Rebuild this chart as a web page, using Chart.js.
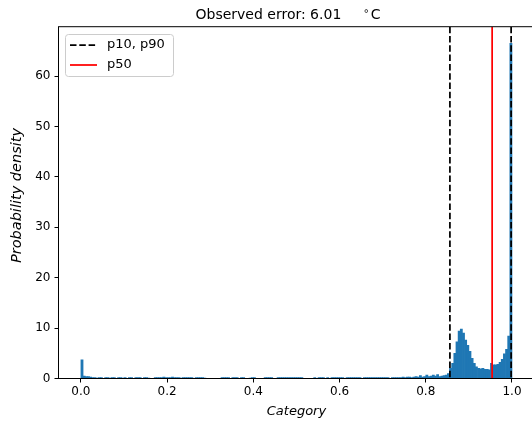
<!DOCTYPE html>
<html><head><meta charset="utf-8">
<script src="https://cdn.jsdelivr.net/npm/chart.js@4/dist/chart.umd.min.js"></script>
<style>
html,body{margin:0;padding:0;background:#fff;overflow:hidden;}
#wrap{position:relative;width:560px;height:425px;}
canvas{display:block;}
</style></head><body>
<div id="wrap"><canvas id="c" width="560" height="425"></canvas></div>
<script>
// ---- data ----
const titleText = 'Observed error: 6.01';
const titleUnit = 'C';
const xLabel = 'Category';
const yLabel = 'Probability density';
const legendLabels = ['p10, p90', 'p50'];

const binStart = 0.0;
const binWidth = 0.005;
// density per bin, 0.000 - 0.830
const densityLow = [
  3.7, 0.5, 0.4, 0.4, 0.3, 0.2, 0.2, 0.1, 0.2, 0.2,
  0,   0.2, 0.2, 0.1, 0.2, 0.2, 0,   0.2, 0.2, 0.1,
  0.2, 0,   0.2, 0.2, 0,   0.2, 0.2, 0.2, 0,   0.2,
  0.2, 0.1, 0,   0,   0.2, 0.2, 0.2, 0.2, 0.3, 0.2,
  0.2, 0.2, 0.3, 0.2, 0.2, 0.2, 0.1, 0.2, 0.2, 0.2,
  0.2, 0.2, 0,   0.2, 0.2, 0.2, 0.2, 0.1, 0,   0,
  0,   0,   0,   0,   0,   0.2, 0.2, 0.2, 0.2, 0,
  0.2, 0.2, 0.2, 0,   0.2, 0.2, 0,   0,   0.1, 0.2,
  0.2, 0,   0,   0,   0,   0.2, 0.2, 0.2, 0.2, 0,
  0,   0.2, 0.2, 0.2, 0.2, 0.2, 0.2, 0.2, 0.2, 0.2,
  0.2, 0.2, 0.2, 0,   0,   0,   0,   0,   0.2, 0,
  0.2, 0.2, 0.2, 0,   0.2, 0,   0.2, 0.2, 0.2, 0.2,
  0.2, 0.2, 0,   0.2, 0.2, 0.2, 0.2, 0.2, 0.2, 0.2,
  0,   0.2, 0.2, 0.2, 0.2, 0.2, 0.2, 0.2, 0.2, 0.2,
  0.2, 0.2, 0.2, 0,   0.2, 0.2, 0.2, 0.2, 0.2, 0.3,
  0.2, 0.3, 0.3, 0.2, 0.3, 0.4, 0.3, 0.6, 0.3, 0.4,
  0.7, 0.4, 0.5, 0.7, 0.5, 0.8
];
// density per bin, 0.830 - 1.000
const densityHigh = [
  0.4, 0.5, 0.6, 0.7, 1.0, 2.0, 3.0, 5.0, 7.3, 9.4,
  9.8, 9.0, 7.6, 6.6, 5.4, 4.0, 3.0, 2.3, 2.0, 1.9,
  2.0, 1.8, 1.8, 1.7, 3.0, 2.7, 2.7, 2.8, 3.2, 3.8,
  4.9, 5.8, 8.4, 66.5
];
const p10 = 0.856, p50 = 0.954, p90 = 0.998;
const xTicks = [0.0, 0.2, 0.4, 0.6, 0.8, 1.0];
const yTicks = [0, 10, 20, 30, 40, 50, 60];
const xMin = -0.052, xMax = 1.052, yMin = 0, yMax = 69.8;

// ---- build ----
const density = densityLow.concat(densityHigh);
const histPoints = density.map((v, i) => ({x: binStart + (i + 0.5) * binWidth, y: v}));
const vline = (x) => [{x: x, y: yMax}, {x: x, y: yMin}];

const FONT = '"DejaVu Sans", sans-serif';
const BLUE = '#1f77b4';

const frame = {
  id: 'frame',
  afterDraw(chart) {
    const {ctx, chartArea: a} = chart;
    ctx.save();
    ctx.strokeStyle = '#000';
    ctx.lineWidth = 1;
    ctx.strokeRect(a.left, a.top, a.right - a.left, a.bottom - a.top);
    // legend
    const lx = 65.5, ly = 34.5, lw = 108, lh = 42, r = 3;
    ctx.beginPath();
    ctx.moveTo(lx + r, ly);
    ctx.lineTo(lx + lw - r, ly); ctx.quadraticCurveTo(lx + lw, ly, lx + lw, ly + r);
    ctx.lineTo(lx + lw, ly + lh - r); ctx.quadraticCurveTo(lx + lw, ly + lh, lx + lw - r, ly + lh);
    ctx.lineTo(lx + r, ly + lh); ctx.quadraticCurveTo(lx, ly + lh, lx, ly + lh - r);
    ctx.lineTo(lx, ly + r); ctx.quadraticCurveTo(lx, ly, lx + r, ly);
    ctx.closePath();
    ctx.fillStyle = 'rgba(255,255,255,0.8)';
    ctx.fill();
    ctx.strokeStyle = '#cccccc';
    ctx.stroke();
    ctx.lineWidth = 1.75;
    ctx.strokeStyle = '#000';
    ctx.setLineDash([6.5, 2.8]);
    ctx.beginPath(); ctx.moveTo(70, 45); ctx.lineTo(97, 45); ctx.stroke();
    ctx.setLineDash([]);
    ctx.strokeStyle = '#ff0000';
    ctx.beginPath(); ctx.moveTo(70, 65); ctx.lineTo(97, 65); ctx.stroke();
    ctx.fillStyle = '#000';
    ctx.font = '13px ' + FONT;
    ctx.textBaseline = 'middle';
    ctx.textAlign = 'left';
    ctx.fillText(legendLabels[0], 107, 45);
    ctx.fillText(legendLabels[1], 107, 65);
    // title
    ctx.font = '14px ' + FONT;
    ctx.textBaseline = 'alphabetic';
    ctx.fillStyle = '#000';
    const tx = 195.5;
    ctx.fillText(titleText, tx, 18.5);
    const w = ctx.measureText(titleText).width;
    const ringX = tx + w + 22;
    ctx.font = '10px ' + FONT;
    ctx.fillText('\u2218', ringX, 14);
    ctx.font = '14px ' + FONT;
    ctx.fillText(titleUnit, ringX + 7.5, 18.5);
    // y axis label
    ctx.save();
    ctx.translate(17, 195.5);
    ctx.rotate(-Math.PI / 2);
    ctx.font = 'italic 14.5px ' + FONT;
    ctx.textAlign = 'center';
    ctx.textBaseline = 'middle';
    ctx.fillText(yLabel, 0, 0);
    ctx.restore();
    ctx.restore();
  }
};

new Chart(document.getElementById('c'), {
  type: 'bar',
  data: {
    datasets: [
      {type: 'line', label: legendLabels[0], data: vline(p10), borderColor: '#000', borderWidth: 1.75,
       borderDash: [6.5, 2.8], pointRadius: 0, fill: false, order: 1},
      {type: 'line', label: legendLabels[0], data: vline(p90), borderColor: '#000', borderWidth: 1.75,
       borderDash: [6.5, 2.8], pointRadius: 0, fill: false, order: 1},
      {type: 'line', label: legendLabels[1], data: vline(p50), borderColor: '#ff0000', borderWidth: 1.75,
       pointRadius: 0, fill: false, order: 1},
      {type: 'bar', label: 'density', data: histPoints, backgroundColor: BLUE, borderWidth: 0,
       barPercentage: 1.0, categoryPercentage: 1.0, order: 2}
    ]
  },
  options: {
    responsive: false,
    animation: false,
    devicePixelRatio: 1,
    layout: {padding: {top: 26.7, right: 25.6, left: 0, bottom: 0}},
    plugins: {legend: {display: false}, tooltip: {enabled: false}, title: {display: false}},
    scales: {
      x: {
        type: 'linear', min: xMin, max: xMax, offset: false,
        grid: {display: true, drawOnChartArea: false, drawTicks: true, tickLength: 4, tickColor: '#000', tickWidth: 1, offset: false},
        border: {display: false},
        ticks: {font: {family: FONT, size: 12}, color: '#000', padding: 2, maxRotation: 0, autoSkip: false,
                callback: (v) => Number(v).toFixed(1)},
        afterBuildTicks: (s) => { s.ticks = xTicks.map(v => ({value: v})); },
        afterFit: (s) => { s.height = 46.5; },
        title: {display: true, text: xLabel, color: '#000', font: {family: FONT, size: 13, style: 'italic'},
                padding: {top: 0, bottom: 5.5}}
      },
      y: {
        type: 'linear', min: yMin, max: yMax,
        grid: {display: true, drawOnChartArea: false, drawTicks: true, tickLength: 4, tickColor: '#000', tickWidth: 1},
        border: {display: false},
        ticks: {font: {family: FONT, size: 12}, color: '#000', padding: 4, autoSkip: false,
                callback: (v) => String(v)},
        afterBuildTicks: (s) => { s.ticks = yTicks.map(v => ({value: v})); },
        afterFit: (s) => { s.width = 58.5; },
        title: {display: false}
      }
    }
  },
  plugins: [frame]
});
</script>
</body></html>
